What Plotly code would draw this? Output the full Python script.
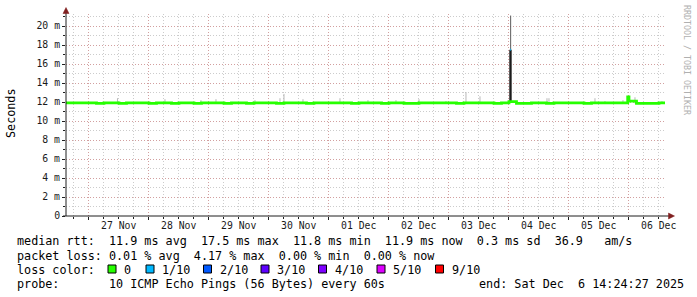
import plotly.graph_objects as go
import pandas as pd

# ---------------- data ----------------
range_start = "2025-11-26 14:48:27"
range_end = "2025-12-06 14:48:27"
data_start = "2025-11-26 14:24:27"
data_end = "2025-12-06 14:24:27"

day_ticks = ["2025-11-27", "2025-11-28", "2025-11-29", "2025-11-30", "2025-12-01",
             "2025-12-02", "2025-12-03", "2025-12-04", "2025-12-05", "2025-12-06"]
day_labels = ["27 Nov", "28 Nov", "29 Nov", "30 Nov", "01 Dec",
              "02 Dec", "03 Dec", "04 Dec", "05 Dec", "06 Dec"]

y_ticks = [0, 2, 4, 6, 8, 10, 12, 14, 16, 18, 20]
y_labels = ["0", "2 m", "4 m", "6 m", "8 m", "10 m", "12 m", "14 m", "16 m", "18 m", "20 m"]

# median rtt (ms), 3-hour slots starting 2025-11-26 15:00
median_slot_start = "2025-11-26 15:00"
median_vals = [
    11.9, 11.9, 11.9,
    11.9, 11.85, 11.9, 11.9, 11.85, 11.9, 11.9, 11.9,
    11.85, 11.9, 11.9, 11.85, 11.9, 11.9, 11.85, 11.9,
    11.9, 11.9, 11.85, 11.9, 11.9, 11.85, 11.9, 11.9,
    11.9, 11.85, 11.9, 11.9, 11.9, 11.85, 11.9, 11.9,
    11.9, 11.9, 11.9, 11.85, 11.9, 11.9, 11.9, 11.85,
    11.9, 11.9, 11.85, 11.85, 11.9, 11.9, 11.9, 11.9,
    11.9, 11.85, 11.9, 11.9, 11.9, 11.9, 11.85, 11.9,
    12.05, 11.85, 11.85, 11.9, 11.9, 11.85, 11.9, 11.9,
    11.9, 11.9, 11.85, 11.9, 11.9, 11.9, 11.9, 11.9,
    12.1, 11.85, 11.85, 11.85, 11.9,
]
median_first_val = 11.9
median_event_times = ["2025-12-05 23:30"]
median_event_vals = [12.55]

# light smoke ticks (ms): time and top of the smoke
smoke_times = ["2025-11-27 11:24", "2025-11-28 06:24", "2025-11-28 20:48", "2025-11-29 02:48",
               "2025-11-29 18:24", "2025-11-30 04:24", "2025-11-30 06:00", "2025-11-30 13:36",
               "2025-12-01 04:24", "2025-12-01 15:36", "2025-12-02 02:48", "2025-12-02 12:00",
               "2025-12-02 22:48", "2025-12-03 06:48", "2025-12-03 12:24", "2025-12-04 15:12",
               "2025-12-04 16:00", "2025-12-05 10:24", "2025-12-05 14:24", "2025-12-05 21:36",
               "2025-12-06 02:24", "2025-12-06 13:12"]
smoke_tops = [12.4, 12.3, 12.2, 12.3,
              12.2, 12.4, 12.85, 12.3,
              12.4, 12.2, 12.2, 12.3,
              12.1, 13.05, 12.6, 12.4,
              12.4, 12.4, 12.1, 12.2,
              12.5, 12.1]
smoke_base = 11.95

# dense smoke
dense_times = ["2025-12-04 00:36", "2025-12-05 23:40", "2025-12-06 02:50"]
dense_lo = [12.0, 12.1, 11.85]
dense_hi = [17.5, 12.6, 12.1]

# the big spike
spike_time = "2025-12-04 00:40"
spike_median = 17.5
spike_top = 21.1

loss_labels = ["0", "1/10", "2/10", "3/10", "4/10", "5/10", "9/10"]
loss_colors = ["#26ff00", "#00b8ff", "#0059ff", "#5e00ff", "#7e00ff", "#dd00ff", "#ff0000"]

stats_line1 = "median rtt:  11.9 ms avg  17.5 ms max  11.8 ms min  11.9 ms now  0.3 ms sd  36.9   am/s"
stats_line2 = "packet loss: 0.01 % avg  4.17 % max  0.00 % min  0.00 % now"
loss_title = "loss color:"
probe_line = "probe:       10 ICMP Echo Pings (56 Bytes) every 60s"
end_line = "end: Sat Dec  6 14:24:27 2025"

# ---------------- build ----------------
W, H = 697, 297
L, R, T, B = 66, 31, 14, 81
PW, PH = W - L - R, H - T - B
YMAX = 202 / 9.5

def px(X):
    return (X - L) / PW

def py(Y):
    return (H - B - Y) / PH

slot_times = list(pd.date_range(median_slot_start, periods=len(median_vals), freq="3h"))
mt = [pd.Timestamp(data_start)] + slot_times + [pd.Timestamp(t) for t in median_event_times]
mv = [median_first_val] + median_vals + median_event_vals
order = sorted(range(len(mt)), key=lambda i: mt[i])
mt = [mt[i] for i in order] + [pd.Timestamp(data_end)]
mv = [mv[i] for i in order] + [mv[order[-1]]]

mono = "DejaVu Sans Mono"
fig = go.Figure()

# light smoke ticks
sx, sy = [], []
for t, top in zip(smoke_times, smoke_tops):
    sx += [t, t, None]
    sy += [smoke_base, top, None]
fig.add_trace(go.Scatter(x=sx, y=sy, mode="lines", line=dict(color="#b8b8b8", width=1),
                         hoverinfo="skip", showlegend=False))
# spike upper smoke
fig.add_trace(go.Scatter(x=[spike_time, spike_time], y=[spike_median, spike_top], mode="lines",
                         line=dict(color="#5c5c5c", width=1), hoverinfo="skip", showlegend=False))
# dense smoke
dx, dy = [], []
for t, lo, hi in zip(dense_times, dense_lo, dense_hi):
    dx += [t, t, None]
    dy += [lo, hi, None]
fig.add_trace(go.Scatter(x=dx, y=dy, mode="lines", line=dict(color="#1c1c1c", width=2.4),
                         hoverinfo="skip", showlegend=False))
# median line
fig.add_trace(go.Scatter(x=mt, y=mv, mode="lines", line=dict(color=loss_colors[0], width=2.8, shape="hv"),
                         hoverinfo="skip", showlegend=False))
# spike median (loss 1/10)
st = pd.Timestamp(spike_time)
fig.add_trace(go.Scatter(x=[st - pd.Timedelta(minutes=10), st + pd.Timedelta(minutes=10)],
                         y=[spike_median, spike_median], mode="lines",
                         line=dict(color=loss_colors[1], width=2), hoverinfo="skip", showlegend=False))

grid_minor = "rgba(143,143,143,0.45)"
grid_major = "rgba(222,79,79,0.36)"

fig.update_layout(
    width=W, height=H, margin=dict(l=L, r=R, t=T, b=B),
    paper_bgcolor="white", plot_bgcolor="white",
    showlegend=False,
    xaxis=dict(type="date", range=[range_start, range_end],
               tickmode="array", tickvals=day_ticks, showticklabels=False,
               ticks="outside", ticklen=3, tickcolor="#1f1f1f", tickwidth=1,
               showgrid=True, gridcolor=grid_major, griddash="1px,2px", gridwidth=1,
               minor=dict(dtick=6 * 3600 * 1000, tick0="2025-11-27", showgrid=True,
                          gridcolor=grid_minor, griddash="1px,2px", ticks="outside",
                          ticklen=2, tickcolor="#1f1f1f"),
               showline=False, zeroline=False, fixedrange=True),
    yaxis=dict(range=[0, YMAX], tickmode="array", tickvals=y_ticks, ticktext=y_labels,
               ticks="outside", ticklen=3, tickcolor="#1f1f1f",
               tickfont=dict(family=mono, size=9.8, color="#1a1a1a"),
               showgrid=True, gridcolor=grid_major, griddash="1px,2px",
               minor=dict(dtick=1, showgrid=True, gridcolor=grid_minor, griddash="1px,2px",
                          ticks="outside", ticklen=2, tickcolor="#1f1f1f"),
               showline=False, zeroline=False, fixedrange=True),
)

shapes = []
# axes lines
shapes.append(dict(type="line", xref="paper", yref="paper", x0=px(63), x1=px(669), y0=0, y1=0,
                   line=dict(color="#1f1f1f", width=1)))
shapes.append(dict(type="line", xref="paper", yref="paper", x0=0, x1=0, y0=0, y1=py(13),
                   line=dict(color="#1f1f1f", width=1)))
# arrows
shapes.append(dict(type="path", xref="paper", yref="paper",
                   path=f"M {px(66)},{py(7.5)} L {px(63)},{py(13.5)} L {px(69)},{py(13.5)} Z",
                   fillcolor="#801f1f", line=dict(color="#801f1f", width=0.5)))
shapes.append(dict(type="path", xref="paper", yref="paper",
                   path=f"M {px(674.5)},{py(216)} L {px(668.5)},{py(213)} L {px(668.5)},{py(219)} Z",
                   fillcolor="#801f1f", line=dict(color="#801f1f", width=0.5)))

# loss color boxes
box_x = [108, 146, 203.5, 261, 318.5, 377, 435.5]
for bx, c in zip(box_x, loss_colors):
    shapes.append(dict(type="rect", xref="paper", yref="paper",
                       x0=px(bx), x1=px(bx + 8), y0=py(273), y1=py(265),
                       fillcolor=c, line=dict(color="black", width=1)))
fig.update_layout(shapes=shapes)

ann = []
# day labels at noon
for d, lab in zip(day_ticks, day_labels):
    noon = pd.Timestamp(d) + pd.Timedelta(hours=12)
    ann.append(dict(x=noon, y=py(225), xref="x", yref="paper", text=lab, showarrow=False,
                    xanchor="center", yanchor="middle",
                    font=dict(family=mono, size=9.8, color="#1a1a1a")))

def nb(s):
    return s.replace(" ", "\u00a0")

fs = 11.75
def textline(x, y, s):
    ann.append(dict(x=px(x), y=py(y), xref="paper", yref="paper", text=nb(s), showarrow=False,
                    xanchor="left", yanchor="middle", borderpad=0,
                    font=dict(family=mono, size=fs, color="black")))

textline(16, 241.5, stats_line1)
textline(16, 255.5, stats_line2)
textline(16, 269.5, loss_title)
for bx, lab in zip(box_x, loss_labels):
    textline(bx + 15, 269.5, lab)
textline(16, 283.5, probe_line)
textline(478, 283.5, end_line)

# y axis title
ann.append(dict(x=px(11), y=py(113), xref="paper", yref="paper", text="Seconds", showarrow=False,
                textangle=-90, xanchor="center", yanchor="middle",
                font=dict(family=mono, size=fs, color="black")))
# watermark
ann.append(dict(x=px(687), y=py(60), xref="paper", yref="paper", text=nb("RRDTOOL / TOBI OETIKER"),
                showarrow=False, textangle=90, xanchor="center", yanchor="middle",
                font=dict(family=mono, size=8.3, color="#b0b0b0")))
fig.update_layout(annotations=ann)

fig.write_html("out.html")
